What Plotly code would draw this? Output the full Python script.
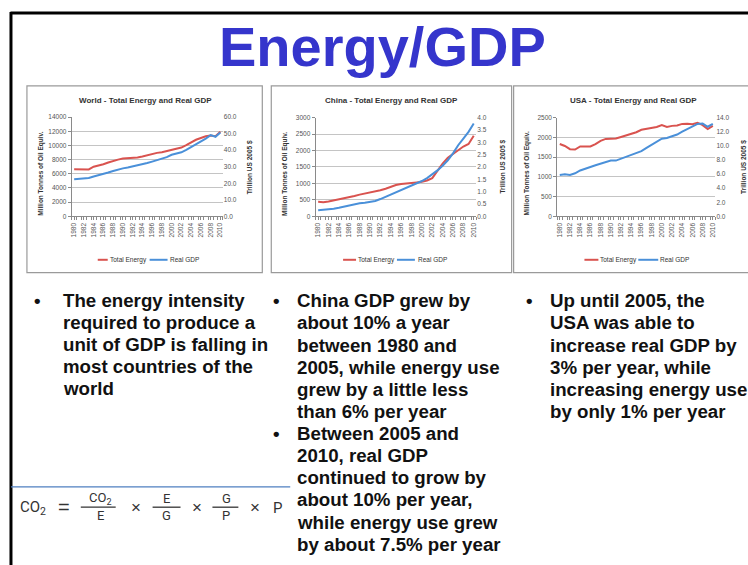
import plotly.graph_objects as go

# ---------------- data ----------------
years = list(range(1980, 2011))

world_energy = [6630, 6600, 6570, 6620, 7000, 7150, 7350, 7600, 7850, 8000,
                8150, 8200, 8230, 8300, 8450, 8650, 8850, 8950, 9050, 9200,
                9400, 9500, 9700, 10050, 10450, 10800, 11050, 11300, 11400, 11300,
                11950]
world_gdp = [22.4, 22.6, 22.7, 23.2, 24.1, 24.8, 25.6, 26.5, 27.4, 28.3,
             29.0, 29.5, 30.1, 30.7, 31.4, 32.2, 33.1, 34.0, 34.8, 35.8,
             37.2, 37.8, 38.7, 40.2, 41.9, 43.3, 45.0, 47.0, 49.1, 48.1,
             50.7]

china_energy = [440, 430, 450, 480, 510, 550, 590, 620, 660, 690,
                720, 750, 790, 840, 900, 950, 980, 990, 1010, 1030,
                1050, 1090, 1160, 1400, 1600, 1780, 1900, 2000, 2120, 2200,
                2450]
china_gdp = [0.25, 0.26, 0.28, 0.31, 0.35, 0.40, 0.44, 0.49, 0.53, 0.55,
             0.57, 0.62, 0.70, 0.79, 0.88, 0.97, 1.06, 1.15, 1.24, 1.33,
             1.43, 1.55, 1.69, 1.86, 2.05, 2.27, 2.55, 2.88, 3.15, 3.42,
             3.76]

usa_energy = [1830, 1780, 1700, 1690, 1770, 1765, 1770, 1830, 1910, 1960,
              1970, 1970, 2010, 2050, 2090, 2130, 2190, 2210, 2230, 2260,
              2310, 2260, 2290, 2300, 2340, 2345, 2330, 2370, 2310, 2210,
              2290]
usa_gdp = [5.85, 5.95, 5.85, 6.1, 6.5, 6.8, 7.0, 7.25, 7.5, 7.75,
           7.9, 7.9, 8.15, 8.4, 8.7, 8.95, 9.25, 9.7, 10.15, 10.6,
           11.0, 11.1, 11.3, 11.6, 12.0, 12.4, 12.8, 13.1, 13.15, 12.7,
           13.1]

label_years = [y for y in years if y % 2 == 0]

chart_titles = ["World - Total Energy and Real GDP",
                "China - Total Energy and Real GDP",
                "USA - Total Energy and Real GDP"]
series_names = ["Total Energy", "Real GDP"]
left_title = "Million Tonnes of Oil Equiv."
right_title = "Trillion US 2005 $"

bullets_world = ["The energy intensity", "required to produce a",
                 "unit of GDP is falling in", "most countries of the", "world"]
bullets_china_1 = ["China GDP grew by", "about 10% a year", "between 1980 and",
                   "2005, while energy use", "grew by a little less",
                   "than 6% per year"]
bullets_china_2 = ["Between 2005 and", "2010, real GDP", "continued to grow by",
                   "about 10% per year,", "while energy use grew",
                   "by about 7.5% per year"]
bullets_usa = ["Up until 2005, the", "USA was able to", "increase real GDP by",
               "3% per year, while", "increasing energy use",
               "by only 1% per year"]

# ---------------- helpers ----------------
W, H = 748, 565
def fx(x): return x / W
def fy(y): return 1 - y / H

RED = "#d9534f"
BLUE = "#4a90d9"
GRID = "#c4c4c4"
AX = "#8a8a8a"
TICKC = "#555555"
FONT = "Liberation Sans, Arial, sans-serif"

fig = go.Figure()

charts = [
    dict(e=world_energy, g=world_gdp, box=(70.9, 222.4, 114.5, 215),
         lr=(0, 14000, 2000), rr=(0, 60, 10),
         panel=(26, 262, 83, 272), title_x=145,
         ltx=40, rtx=250,
         leg=(97, 107, 108, 149, 167, 168)),
    dict(e=china_energy, g=china_gdp, box=(315.4, 476.6, 115, 215),
         lr=(0, 3000, 500), rr=(0, 4, 0.5), panel=(271, 512, 83, 272),
         title_x=392, ltx=285, rtx=503,
         leg=(343, 356, 357, 397, 415, 417)),
    dict(e=usa_energy, g=usa_gdp, box=(557.7, 716.3, 115, 215),
         lr=(0, 2500, 500), rr=(0, 14, 2), panel=(514, 760, 83, 272),
         title_x=634, ltx=527, rtx=745,
         leg=(585, 599, 600, 639, 659, 660)),
]

shapes = []
annotations = []
layout_axes = {}

for i, c in enumerate(charts):
    n = i + 1
    xname = "x" if n == 1 else f"x{n}"
    yl = 2 * n - 1
    yr = 2 * n
    ylname = "y" if yl == 1 else f"y{yl}"
    yrname = f"y{yr}"
    xl, xr, yt, yb = c["box"]

    fig.add_trace(go.Scatter(x=years, y=c["e"], mode="lines", name=series_names[0],
                             line=dict(color=RED, width=2), xaxis=xname, yaxis=ylname,
                             showlegend=False))
    fig.add_trace(go.Scatter(x=years, y=c["g"], mode="lines", name=series_names[1],
                             line=dict(color=BLUE, width=2), xaxis=xname, yaxis=yrname,
                             showlegend=False))

    xkey = "xaxis" if n == 1 else f"xaxis{n}"
    ylkey = "yaxis" if yl == 1 else f"yaxis{yl}"
    yrkey = f"yaxis{yr}"
    layout_axes[xkey] = dict(domain=[fx(xl), fx(xr)], range=[1979.5, 2010.5],
                             anchor=ylname, tickmode="array", tickvals=label_years,
                             ticktext=[str(v) for v in label_years],
                             tickangle=-90, ticks="outside",
                             ticklen=3, tickcolor=AX, showline=True, linecolor=AX,
                             linewidth=1, showgrid=False, zeroline=False,
                             minor=dict(tickmode="linear", tick0=1979.5, dtick=1,
                                        ticks="outside", ticklen=3, tickcolor=AX,
                                        showgrid=False),
                             tickfont=dict(size=6.5, color=TICKC, family=FONT))
    lo, hi, dt = c["lr"]
    layout_axes[ylkey] = dict(domain=[fy(yb), fy(yt)], range=[lo, hi], dtick=dt,
                              anchor=xname, showgrid=True, gridcolor=GRID,
                              gridwidth=1, showline=True, linecolor=AX,
                              ticks="outside", ticklen=3, tickcolor=AX,
                              zeroline=False, tickformat="d",
                              tickfont=dict(size=6.5, color=TICKC, family=FONT))
    lo, hi, dt = c["rr"]
    layout_axes[yrkey] = dict(range=[lo, hi], dtick=dt, overlaying=ylname,
                              side="right", anchor=xname, showgrid=False,
                              showline=False, ticks="", zeroline=False,
                              tickformat=".1f",
                              tickfont=dict(size=6.5, color=TICKC, family=FONT))

    px0, px1, py0, py1 = c["panel"]
    shapes.append(dict(type="rect", xref="paper", yref="paper",
                       x0=fx(px0), x1=fx(px1), y0=fy(py1), y1=fy(py0),
                       line=dict(color="#9a9a9a", width=1.2), layer="below"))
    annotations.append(dict(x=fx(c["title_x"]), y=fy(97.5), xref="paper", yref="paper",
                            text=f"<b>{chart_titles[i]}</b>", showarrow=False,
                            xanchor="center", yanchor="middle",
                            font=dict(size=8, color="#333333", family=FONT)))
    annotations.append(dict(x=fx(c["ltx"]), y=fy(172), xref="paper", yref="paper",
                            text=f"<b>{left_title}</b>", showarrow=False, textangle=-90,
                            xanchor="center", yanchor="middle",
                            font=dict(size=6.5, color="#333333", family=FONT)))
    annotations.append(dict(x=fx(c["rtx"]), y=fy(165), xref="paper", yref="paper",
                            text=f"<b>{right_title}</b>", showarrow=False, textangle=-90,
                            xanchor="center", yanchor="middle",
                            font=dict(size=6.5, color="#333333", family=FONT)))
    r0, r1, t1, b0, b1, t2 = c["leg"]
    ly = fy(259)
    shapes.append(dict(type="line", xref="paper", yref="paper", x0=fx(r0), x1=fx(r1),
                       y0=ly, y1=ly, line=dict(color=RED, width=2)))
    shapes.append(dict(type="line", xref="paper", yref="paper", x0=fx(b0), x1=fx(b1),
                       y0=ly, y1=ly, line=dict(color=BLUE, width=2)))
    annotations.append(dict(x=fx(t1), y=ly, xref="paper", yref="paper",
                            text=series_names[0], showarrow=False, xanchor="left",
                            yanchor="middle", borderpad=0,
                            font=dict(size=6.5, color="#333333", family=FONT)))
    annotations.append(dict(x=fx(t2), y=ly, xref="paper", yref="paper",
                            text=series_names[1], showarrow=False, xanchor="left",
                            yanchor="middle", borderpad=0,
                            font=dict(size=6.5, color="#333333", family=FONT)))

# slide border (black, thick) top & left
shapes.append(dict(type="line", xref="paper", yref="paper", x0=fx(9.5), x1=fx(760),
                   y0=fy(9), y1=fy(9), line=dict(color="black", width=3)))
shapes.append(dict(type="line", xref="paper", yref="paper", x0=fx(10), x1=fx(10),
                   y0=fy(8), y1=fy(570), line=dict(color="black", width=3)))

# title
annotations.append(dict(x=fx(383), y=fy(43), xref="paper", yref="paper",
                        text="<b>Energy/GDP</b>", showarrow=False, xanchor="center",
                        yanchor="middle",
                        font=dict(size=56, color="#3535cc", family=FONT)))

# bullet text
TXT = dict(size=18.7, color="#111111", family=FONT)
LS = 22.4
def add_lines(lines, x, y0, bullet_x=None):
    for k, line in enumerate(lines):
        annotations.append(dict(x=fx(x), y=fy(y0 + k * LS), xref="paper", yref="paper",
                                text=f"<b>{line}</b>", showarrow=False, xanchor="left",
                                yanchor="middle", borderpad=0, font=TXT))
    if bullet_x is not None:
        annotations.append(dict(x=fx(bullet_x), y=fy(y0), xref="paper", yref="paper",
                                text="<b>•</b>", showarrow=False, xanchor="center",
                                yanchor="middle", borderpad=0, font=TXT))

add_lines(bullets_world, 61.5, 300, 37)
add_lines(bullets_china_1, 295.5, 300.5, 276)
add_lines(bullets_china_2, 295.5, 300.5 + 6 * LS, 276)
add_lines(bullets_usa, 549, 300.5, 530)

# formula
shapes.append(dict(type="line", xref="paper", yref="paper", x0=fx(10), x1=fx(290),
                   y0=fy(489), y1=fy(489), line=dict(color="#4f7fc0", width=1.2)))
NARROW = "Liberation Sans Narrow, Roboto, Liberation Sans, sans-serif"
FF = dict(size=15, color="#333333", family=NARROW)
FS = dict(size=13, color="#333333", family=NARROW)
def ftext(x, y, t, f=FF):
    annotations.append(dict(x=fx(x), y=fy(y), xref="paper", yref="paper", text=t,
                            showarrow=False, xanchor="center", yanchor="middle",
                            borderpad=0, font=f))
ftext(32, 510, "CO<sub>2</sub>")
ftext(63, 509, "=", dict(size=20, color="#333333", family=FONT))
ftext(100, 501, "CO<sub>2</sub>", FS)
ftext(100, 518, "E", FS)
ftext(135, 510, "×", dict(size=17, color="#333333", family=FONT))
ftext(166, 501, "E", FS)
ftext(166, 518, "G", FS)
ftext(197, 510, "×", dict(size=17, color="#333333", family=FONT))
ftext(226, 501, "G", FS)
ftext(226, 518, "P", FS)
ftext(255, 510, "×", dict(size=17, color="#333333", family=FONT))
ftext(277, 510, "P")
for (a, b) in [(80, 115), (152, 180), (212, 238)]:
    shapes.append(dict(type="line", xref="paper", yref="paper", x0=fx(a), x1=fx(b),
                       y0=fy(509.5), y1=fy(509.5), line=dict(color="#333333", width=1.3)))

fig.update_layout(
    width=W, height=H, margin=dict(l=0, r=0, t=0, b=0),
    paper_bgcolor="white", plot_bgcolor="white",
    showlegend=False, shapes=shapes, annotations=annotations,
    **layout_axes,
)

fig.write_html("out.html")
